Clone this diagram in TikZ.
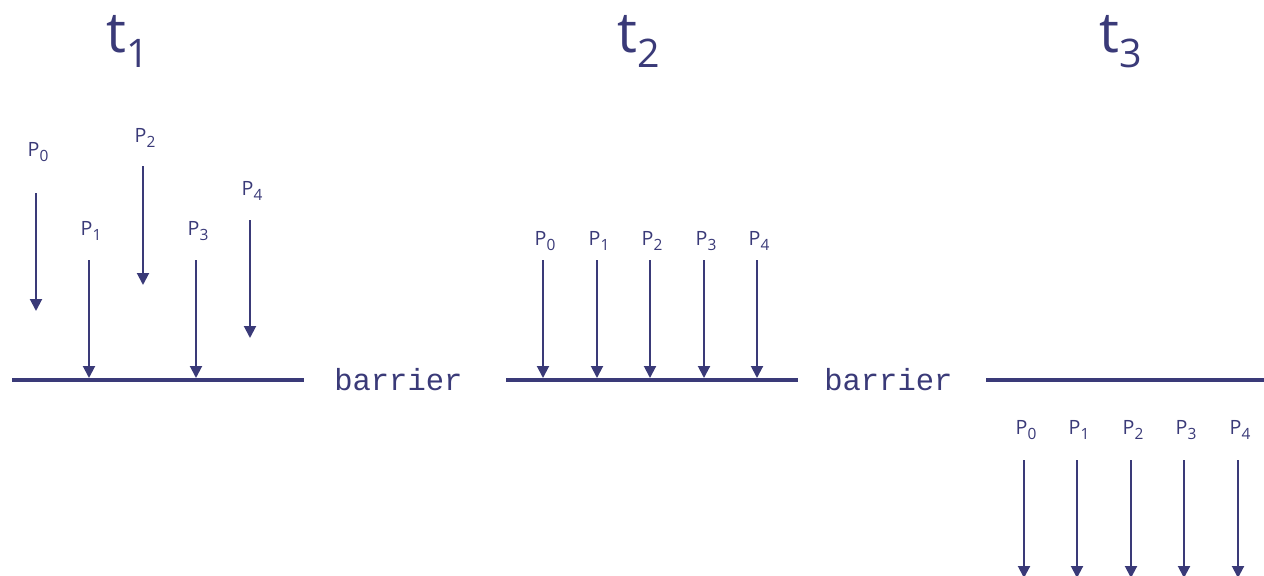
\documentclass[tikz,border=0pt]{standalone}
\usepackage{fontspec}
\setmainfont{Open Sans}
\newfontfamily\barfont{Liberation Mono}
\usetikzlibrary{arrows.meta}
\definecolor{navy}{RGB}{58,58,120}
\newcommand{\stagesub}[1]{\raisebox{-11pt}{\fontsize{28}{28}\selectfont #1}}
\newcommand{\procsub}[1]{P\raisebox{-3.5pt}{\fontsize{11}{11}\selectfont #1}}

\begin{document}
\begin{tikzpicture}[x=0.25mm,y=-0.25mm,
 stage/.style={text=navy,font=\fontsize{40}{40}\selectfont,anchor=base west,inner sep=0pt},
 proc/.style={text=navy,font=\fontsize{14}{14}\selectfont,inner sep=0pt},
 barlabel/.style={text=navy,font=\barfont\fontsize{21.7}{21.7}\selectfont,anchor=base west,inner sep=0pt},
 barline/.style={draw=navy,line width=1mm},
 arrow/.style={-{Triangle[length=3mm,width=3mm]},line width=.5mm,draw=navy}
]
\useasboundingbox (0,0) rectangle (1264,576);
\clip (0,0) rectangle (1264,576);
% stage titles
\node[stage] (t1) at (106,52) {t\stagesub{1}};
\node[stage] (t2) at (617,52) {t\stagesub{2}};
\node[stage] (t3) at (1099,52) {t\stagesub{3}};
% barriers
\coordinate (b1w) at (12,380);  \coordinate (b1e) at (304,380);
\coordinate (b2w) at (506,380); \coordinate (b2e) at (798,380);
\coordinate (b3w) at (986,380); \coordinate (b3e) at (1264,380);
\draw[barline] (b1w) -- (b1e);
\draw[barline] (b2w) -- (b2e);
\draw[barline] (b3w) -- (b3e);
\node[barlabel] (bar1) at (334,390) {barrier};
\node[barlabel] (bar2) at (824,390) {barrier};
% t1: processes arrive one by one
\foreach \i/\x/\ly/\sy/\ey in {0/36/152/193/311,1/89/231/260/378,2/143/138/166/285,
 3/196/231/260/378,4/250/191/220/338}{
 \node[proc] (pa\i) at (\x+2,\ly) {\procsub{\i}};
 \coordinate (pas\i) at (\x,\sy);
 \coordinate (pae\i) at (\x,\ey);
 \draw[arrow] (pas\i) -- (pae\i);
}
% t2: all processes wait at the barrier
\foreach \i/\x in {0/543,1/597,2/650,3/704,4/757}{
 \node[proc] (pb\i) at (\x+2,241) {\procsub{\i}};
 \coordinate (pbs\i) at (\x,260);
 \coordinate (pbe\i) at (\x,378);
 \draw[arrow] (pbs\i) -- (pbe\i);
}
% t3: released past the barrier
\foreach \i/\x in {0/1024,1/1077,2/1131,3/1184,4/1238}{
 \node[proc] (pc\i) at (\x+2,430) {\procsub{\i}};
 \coordinate (pcs\i) at (\x,460);
 \coordinate (pce\i) at (\x,578);
 \draw[arrow] (pcs\i) -- (pce\i);
}
\end{tikzpicture}
\end{document}
